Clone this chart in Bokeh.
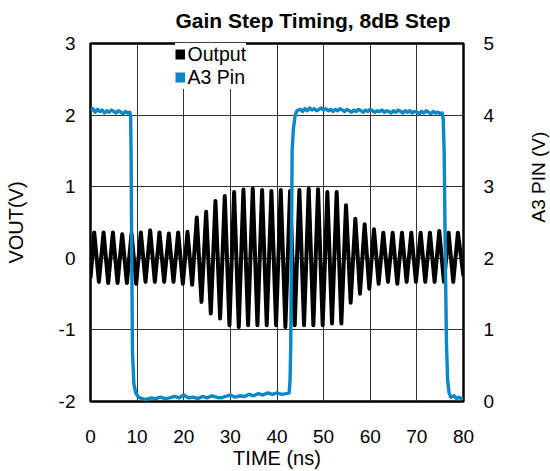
import math
from bokeh.plotting import figure
from bokeh.models import (Range1d, LinearAxis, FixedTicker, Legend, LegendItem,
                          ColumnDataSource)
from bokeh.embed import file_html
from bokeh.resources import INLINE

# ---------------- data ----------------
title_text = "Gain Step Timing, 8dB Step"
x_ticks = [0, 10, 20, 30, 40, 50, 60, 70, 80]
x_tick_labels = ["0", "10", "20", "30", "40", "50", "60", "70", "80"]
vout_ticks = [-2, -1, 0, 1, 2, 3]
vout_tick_labels = ["-2", "-1", "0", "1", "2", "3"]
a3_ticks = [0, 1, 2, 3, 4, 5]
a3_tick_labels = ["0", "1", "2", "3", "4", "5"]

# Output waveform: extrema (peaks / troughs), ns / V
out_t = [0.0, 0.8, 1.8, 2.8, 3.8, 4.8, 5.8, 6.8, 7.8, 8.8, 9.8,
         10.8, 11.8, 12.8, 13.8, 14.8, 15.8, 16.8, 17.8, 18.8, 19.8,
         20.8, 21.8, 22.8, 23.8, 24.8, 25.8, 26.8, 27.8, 28.8, 29.8,
         30.8, 31.8, 32.8, 33.8, 34.8, 35.8, 36.8, 37.8, 38.8, 39.8,
         40.8, 41.8, 42.8, 43.8, 44.8, 45.8, 46.8, 47.8, 48.8, 49.8,
         50.8, 51.8, 52.8, 53.8, 54.8, 55.8, 56.8, 57.8, 58.8, 59.8,
         60.8, 61.8, 62.8, 63.8, 64.8, 65.8, 66.8, 67.8, 68.8, 69.8,
         70.8, 71.8, 72.8, 73.8, 74.8, 75.8, 76.8, 77.8, 78.8, 80.0]
out_v = [-0.28, 0.36, -0.33, 0.36, -0.345, 0.36, -0.345, 0.335, -0.345, 0.345, -0.355,
         0.36, -0.33, 0.39, -0.33, 0.36, -0.33, 0.345, -0.33, 0.36, -0.355,
         0.37, -0.37, 0.57, -0.61, 0.65, -0.77, 0.80, -0.84, 0.87, -0.935,
         0.926, -0.96, 0.96, -0.935, 0.97, -0.935, 0.955, -0.935, 0.94, -0.935,
         0.955, -0.96, 0.94, -0.935, 0.955, -0.935, 0.97, -0.935, 0.963, -0.935,
         0.926, -0.91, 0.926, -0.91, 0.74, -0.62, 0.554, -0.494, 0.475, -0.424,
         0.405, -0.355, 0.358, -0.33, 0.358, -0.355, 0.358, -0.33, 0.358, -0.33,
         0.358, -0.33, 0.358, -0.33, 0.38, -0.33, 0.358, -0.33, 0.358, -0.25]

# A3 pin voltage (right axis), ns / V
a3_t = [0.0, 0.5, 1.0, 1.5, 2.0, 2.5, 3.0, 3.5, 4.0, 4.5, 5.0, 5.5, 6.0, 6.5,
        7.0, 7.5, 8.0, 8.4, 8.6, 8.7, 8.85, 9.0, 9.3, 9.7, 10.3,
        11.0, 12.0, 13.0, 14.0, 15.0, 16.0, 17.0, 18.0, 19.0, 20.0, 21.0,
        22.0, 23.0, 24.0, 25.0, 26.0, 27.0, 28.0, 29.0, 30.0, 31.0, 32.0,
        33.0, 34.0, 35.0, 36.0, 37.0, 38.0, 39.0, 40.0, 41.0, 42.0, 42.6,
        42.8, 42.95, 43.1, 43.25, 43.5, 43.9, 44.3, 44.8,
        45.0, 45.5, 46.0, 46.5, 47.0, 47.5, 48.0, 48.5, 49.0, 49.5,
        50.0, 50.5, 51.0, 51.5, 52.0, 52.5, 53.0, 53.5, 54.0, 54.5,
        55.0, 55.5, 56.0, 56.5, 57.0, 57.5, 58.0, 58.5, 59.0, 59.5,
        60.0, 60.5, 61.0, 61.5, 62.0, 62.5, 63.0, 63.5, 64.0, 64.5,
        65.0, 65.5, 66.0, 66.5, 67.0, 67.5, 68.0, 68.5, 69.0, 69.5,
        70.0, 70.5, 71.0, 71.5, 72.0, 72.5, 73.0, 73.5, 74.0, 74.5,
        75.0, 75.4, 75.65, 75.85, 76.1, 76.35, 76.6, 76.9, 77.3,
        78.0, 78.5, 79.0, 79.5, 80.0]
a3_v = [4.06, 4.09, 4.04, 4.08, 4.05, 4.07, 4.03, 4.06, 4.04, 4.07, 4.05, 4.03, 4.06, 4.04,
        4.02, 4.05, 4.03, 4.04, 4.0, 3.5, 2.0, 0.7, 0.25, 0.12, 0.06,
        0.04, 0.03, 0.05, 0.04, 0.06, 0.04, 0.05, 0.07, 0.05, 0.09, 0.05,
        0.06, 0.04, 0.07, 0.05, 0.08, 0.06, 0.05, 0.07, 0.09, 0.06, 0.08,
        0.07, 0.10, 0.08, 0.11, 0.09, 0.12, 0.10, 0.12, 0.10, 0.11, 0.12,
        0.3, 0.8, 2.2, 3.5, 3.8, 4.0, 4.06, 4.08,
        4.08, 4.05, 4.09, 4.06, 4.10, 4.07, 4.09, 4.06, 4.08, 4.10,
        4.07, 4.09, 4.06, 4.08, 4.05, 4.08, 4.06, 4.09, 4.07, 4.05,
        4.08, 4.06, 4.04, 4.07, 4.05, 4.08, 4.06, 4.04, 4.07, 4.05,
        4.08, 4.06, 4.04, 4.06, 4.05, 4.07, 4.04, 4.06, 4.05, 4.03,
        4.06, 4.04, 4.07, 4.05, 4.03, 4.06, 4.04, 4.06, 4.03, 4.05,
        4.04, 4.02, 4.05, 4.03, 4.06, 4.04, 4.02, 4.05, 4.03, 4.04,
        4.02, 4.03, 3.95, 3.5, 2.0, 0.8, 0.3, 0.12, 0.06,
        0.08, 0.04, 0.06, 0.04, 0.05]

# ---------------- style ----------------
FONT = "Liberation Sans"
BLUE = "#0a87c6"
GRID = "#333333"

p = figure(frame_width=373, frame_height=358, output_backend="svg",
           toolbar_location=None,
           x_range=Range1d(0, 80), y_range=Range1d(-2, 3),
           min_border_left=90, min_border_right=0, min_border_top=43,
           min_border_bottom=0)
p.background_fill_color = "white"
p.border_fill_color = "white"
p.outline_line_color = "black"
p.outline_line_width = 2.5
p.extra_y_ranges = {"a3": Range1d(0, 5)}

# title
p.title.text = title_text
p.title.text_font = FONT
p.title.text_font_size = "21px"
p.title.text_font_style = "bold"
p.title.text_color = "black"
p.title.align = "left"
p.title.offset = 85
p.title.vertical_align = "top"
p.title.standoff = 17.5

# grids
p.xgrid.ticker = FixedTicker(ticks=x_ticks)
p.ygrid.ticker = FixedTicker(ticks=vout_ticks)
for g in (p.xgrid, p.ygrid):
    g.grid_line_color = GRID
    g.grid_line_width = 1
    g.grid_line_alpha = 1

# data
src_out = ColumnDataSource(dict(t=out_t, v=out_v))
src_a3 = ColumnDataSource(dict(t=a3_t, v=a3_v))
p.line("t", "v", source=src_out, line_color="black", line_width=4,
       line_join="round")
p.line("t", "v", source=src_a3, line_color=BLUE, line_width=3.4,
       line_join="round", y_range_name="a3")

# axes
def style_axis(ax, ticks, labels, standoff):
    ax.ticker = FixedTicker(ticks=ticks)
    ax.major_label_overrides = {t: l for t, l in zip(ticks, labels)}
    ax.axis_line_color = None
    ax.major_tick_line_color = None
    ax.minor_tick_line_color = None
    ax.major_tick_out = 0
    ax.major_tick_in = 0
    ax.minor_tick_out = 0
    ax.minor_tick_in = 0
    ax.major_label_text_font = FONT
    ax.major_label_text_font_size = "19px"
    ax.major_label_text_color = "black"
    ax.major_label_standoff = standoff
    ax.axis_label_text_font = FONT
    ax.axis_label_text_font_style = "normal"
    ax.axis_label_text_color = "black"

xa = p.xaxis[0]
style_axis(xa, x_ticks, x_tick_labels, 28)
xa.axis_label = "TIME (ns)"
xa.axis_label_text_font_size = "20px"
xa.axis_label_standoff = 1
xa.major_label_text_line_height = 1.0
xa.axis_label_text_line_height = 1.0

ya = p.yaxis[0]
style_axis(ya, vout_ticks, vout_tick_labels, 15)
ya.axis_label = "VOUT(V)"
ya.axis_label_text_font_size = "20px"
ya.axis_label_standoff = 29

ra = LinearAxis(y_range_name="a3")
style_axis(ra, a3_ticks, a3_tick_labels, 20)
ra.axis_label = "A3 PIN (V)"
ra.axis_label_text_font_size = "19px"
ra.axis_label_standoff = 41
ra.axis_label_text_line_height = 0.8
ra.axis_label_orientation = math.pi / 2
p.add_layout(ra, "right")

# legend (square swatches)
nan = float("nan")
sw_out = p.line(x=[nan], y=[nan], line_color="black", line_width=10, line_cap="butt")
sw_a3 = p.line(x=[nan], y=[nan], line_color=BLUE, line_width=10, line_cap="butt")
legend = Legend(items=[LegendItem(label="Output", renderers=[sw_out]),
                       LegendItem(label="A3 Pin", renderers=[sw_a3])],
                location=(84.6, 312.5), padding=2, spacing=0, margin=0,
                glyph_width=10, glyph_height=20, label_height=20,
                label_standoff=3, label_text_font=FONT,
                label_text_font_size="19.5px", label_text_line_height=1.0,
                label_text_color="black",
                border_line_color=None,
                background_fill_color="white", background_fill_alpha=1)
p.add_layout(legend)

open("out.html", "w").write(file_html(p, INLINE))
